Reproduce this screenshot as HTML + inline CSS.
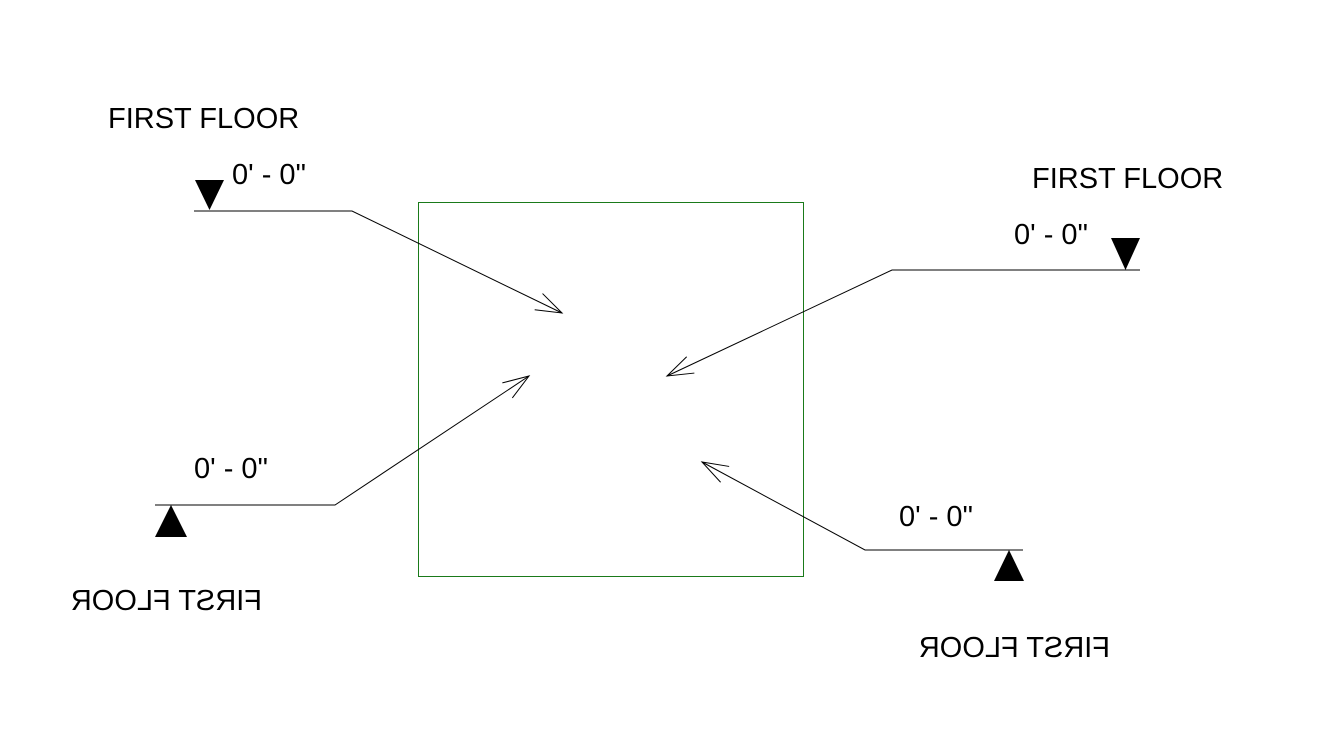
<!DOCTYPE html>
<html><head><meta charset="utf-8"><style>
html,body{margin:0;padding:0;background:#fff;}
svg{display:block;}
text{font-family:"Liberation Sans",Arial,sans-serif;font-size:29px;fill:#000;}
</style></head><body>
<svg width="1339" height="732" viewBox="0 0 1339 732" xmlns="http://www.w3.org/2000/svg">
<defs>
<marker id="a" markerUnits="userSpaceOnUse" markerWidth="30" markerHeight="24" refX="28" refY="10" orient="auto">
<path d="M2,1 L28,10 L2,19" fill="none" stroke="#000" stroke-width="1"/>
</marker>
</defs>
<rect x="418.5" y="202.5" width="385" height="374" fill="none" stroke="#1a7a1a" stroke-width="1"/>

<!-- top left -->
<text x="108" y="128">FIRST FLOOR</text>
<text x="232" y="184">0' - 0"</text>
<polygon points="195,180 224,180 209.5,210" fill="#000"/>
<polyline points="194,211 352,211 562,313" fill="none" stroke="#000" stroke-width="1" marker-end="url(#a)"/>

<!-- top right -->
<text x="1032" y="188">FIRST FLOOR</text>
<text x="1014" y="244">0' - 0"</text>
<polygon points="1111,238 1140,238 1125.5,270" fill="#000"/>
<polyline points="1140,270 892,270 667,376" fill="none" stroke="#000" stroke-width="1" marker-end="url(#a)"/>

<!-- bottom left -->
<text x="194" y="478">0' - 0"</text>
<polygon points="155,537 187,537 171,505" fill="#000"/>
<polyline points="155,505 335,505 529,376" fill="none" stroke="#000" stroke-width="1" marker-end="url(#a)"/>
<text transform="translate(262,610) scale(-1,1)" x="0" y="0">FIRST FLOOR</text>

<!-- bottom right -->
<text x="899" y="526">0' - 0"</text>
<polygon points="994,581 1024,581 1009,550" fill="#000"/>
<polyline points="1023,550 865,550 702,462" fill="none" stroke="#000" stroke-width="1" marker-end="url(#a)"/>
<text transform="translate(1110,657) scale(-1,1)" x="0" y="0">FIRST FLOOR</text>
</svg>
</body></html>
